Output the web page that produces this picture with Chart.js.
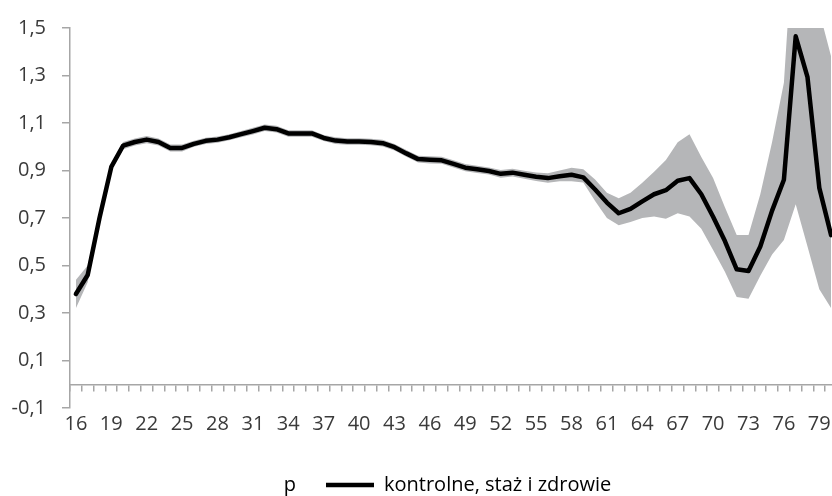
<!DOCTYPE html>
<html>
<head>
<meta charset="utf-8">
<script src="https://cdn.jsdelivr.net/npm/chart.js@4.4.1/dist/chart.umd.min.js"></script>
<style>
  html, body { margin: 0; padding: 0; background: #fff; overflow: hidden; width: 832px; height: 496px; }
  #wrap { position: relative; width: 838px; height: 505px; }
</style>
</head>
<body>
<div id="wrap"><canvas id="chart"></canvas></div>
<script>
// --- data ---
const ages = ['16','17','18','19','20','21','22','23','24','25','26','27','28','29','30','31','32','33','34','35','36','37','38','39','40','41','42','43','44','45','46','47','48','49','50','51','52','53','54','55','56','57','58','59','60','61','62','63','64','65','66','67','68','69','70','71','72','73','74','75','76','77','78','79','80'];

const mainLine = [0.38, 0.46, 0.70, 0.915, 1.005, 1.02, 1.03, 1.02, 0.995, 0.995,
  1.012, 1.025, 1.03, 1.04, 1.053, 1.066, 1.08, 1.074, 1.056, 1.056,
  1.056, 1.037, 1.026, 1.022, 1.022, 1.02, 1.015, 0.998, 0.972, 0.948,
  0.945, 0.943, 0.928, 0.912, 0.905, 0.898, 0.886, 0.891, 0.882, 0.874,
  0.868, 0.876, 0.882, 0.871, 0.82, 0.765, 0.72, 0.738, 0.77, 0.80,
  0.817, 0.857, 0.868, 0.80, 0.705, 0.603, 0.484, 0.477, 0.58, 0.731,
  0.861, 1.465, 1.293, 0.827, 0.628];

const bandUpper = [0.44, 0.50, 0.72, 0.93, 1.02, 1.035, 1.045, 1.035, 1.01, 1.01,
  1.025, 1.038, 1.043, 1.053, 1.066, 1.08, 1.094, 1.088, 1.07, 1.07,
  1.07, 1.05, 1.04, 1.036, 1.036, 1.034, 1.029, 1.012, 0.986, 0.962,
  0.96, 0.958, 0.943, 0.927, 0.92, 0.913, 0.902, 0.907, 0.899, 0.892,
  0.888, 0.90, 0.912, 0.905, 0.862, 0.806, 0.783, 0.806, 0.848, 0.895,
  0.944, 1.019, 1.053, 0.957, 0.868, 0.745, 0.628, 0.628, 0.80, 1.02,
  1.27, 2.04, 1.90, 1.57, 1.38];

const bandLower = [0.32, 0.43, 0.68, 0.90, 0.99, 1.005, 1.015, 1.005, 0.98, 0.98,
  1.0, 1.012, 1.017, 1.027, 1.04, 1.052, 1.066, 1.06, 1.042, 1.042,
  1.042, 1.024, 1.012, 1.008, 1.008, 1.006, 1.001, 0.984, 0.958, 0.934,
  0.93, 0.928, 0.913, 0.897, 0.89, 0.883, 0.87, 0.875, 0.865, 0.856,
  0.848, 0.855, 0.855, 0.85, 0.772, 0.70, 0.669, 0.683, 0.70, 0.706,
  0.697, 0.72, 0.706, 0.655, 0.565, 0.474, 0.367, 0.36, 0.457, 0.546,
  0.607, 0.758, 0.58, 0.40, 0.32];

const yTicks = [-0.1, 0.1, 0.3, 0.5, 0.7, 0.9, 1.1, 1.3, 1.5];
const seriesNames = ['p', 'kontrolne, staż i zdrowie'];

const FONT = '"Open Sans", Lato, sans-serif';
const TEXT = '#3a3a3a';
const AXIS = '#a6a6a6';
const BAND = '#b5b6b8';

const ctx = document.getElementById('chart');
new Chart(ctx, {
  type: 'line',
  data: {
    labels: ages,
    datasets: [
      {
        label: 'dolna',
        data: bandLower,
        borderWidth: 0,
        pointRadius: 0,
        fill: false,
        order: 2
      },
      {
        label: seriesNames[0],
        data: bandUpper,
        borderWidth: 0,
        pointRadius: 0,
        backgroundColor: BAND,
        fill: '-1',
        order: 1
      },
      {
        label: seriesNames[1],
        data: mainLine,
        borderColor: '#000',
        borderWidth: 4.5,
        borderJoinStyle: 'round',
        borderCapStyle: 'round',
        pointRadius: 0,
        fill: false,
        tension: 0,
        order: 0
      }
    ]
  },
  options: {
    responsive: true,
    maintainAspectRatio: false,
    animation: false,
    layout: { padding: { top: 20, right: 1, left: 0, bottom: 0 } },
    plugins: {
      tooltip: { enabled: false },
      legend: {
        position: 'bottom',
        labels: {
          font: { family: FONT, size: 20 },
          color: TEXT,
          usePointStyle: true,
          pointStyleWidth: 48,
          padding: 30,
          generateLabels: (chart) => {
            const ds = chart.data.datasets;
            return [
              { text: ds[1].label, pointStyle: 'line', strokeStyle: 'rgba(0,0,0,0)', fillStyle: 'rgba(0,0,0,0)', lineWidth: 0, datasetIndex: 1 },
              { text: ds[2].label, pointStyle: 'line', strokeStyle: '#000', fillStyle: '#000', lineWidth: 4.5, datasetIndex: 2 }
            ];
          }
        }
      }
    },
    scales: {
      x: {
        type: 'category',
        position: 'bottom',
        offset: true,
        grid: { display: false, drawTicks: false },
        border: { display: false },
        ticks: {
          autoSkip: false,
          maxRotation: 0,
          padding: 4,
          color: TEXT,
          font: { family: FONT, size: 20 },
          callback: function (value, index) {
            return index % 3 === 0 ? this.getLabelForValue(value) : '';
          }
        },
        afterFit: (scale) => { scale.height = 37; }
      },
      x0: {
        type: 'category',
        position: { y: 0 },
        offset: true,
        grid: { offset: true, drawOnChartArea: false, drawTicks: true, tickLength: 6, color: AXIS, lineWidth: 1.5 },
        border: { display: true, color: AXIS, width: 1.5 },
        ticks: { display: false, autoSkip: false }
      },
      y: {
        min: -0.1,
        max: 1.5,
        grid: { drawOnChartArea: false, drawTicks: true, tickLength: 8, color: AXIS, lineWidth: 1.5 },
        border: { display: true, color: AXIS, width: 1.5 },
        ticks: {
          padding: 16,
          color: TEXT,
          font: { family: FONT, size: 20 },
          callback: (v) => v.toFixed(1).replace('.', ',')
        },
        afterBuildTicks: (scale) => { scale.ticks = yTicks.map(v => ({ value: v })); },
        afterFit: (scale) => { scale.width = 70; }
      }
    }
  }
});
</script>
</body>
</html>
